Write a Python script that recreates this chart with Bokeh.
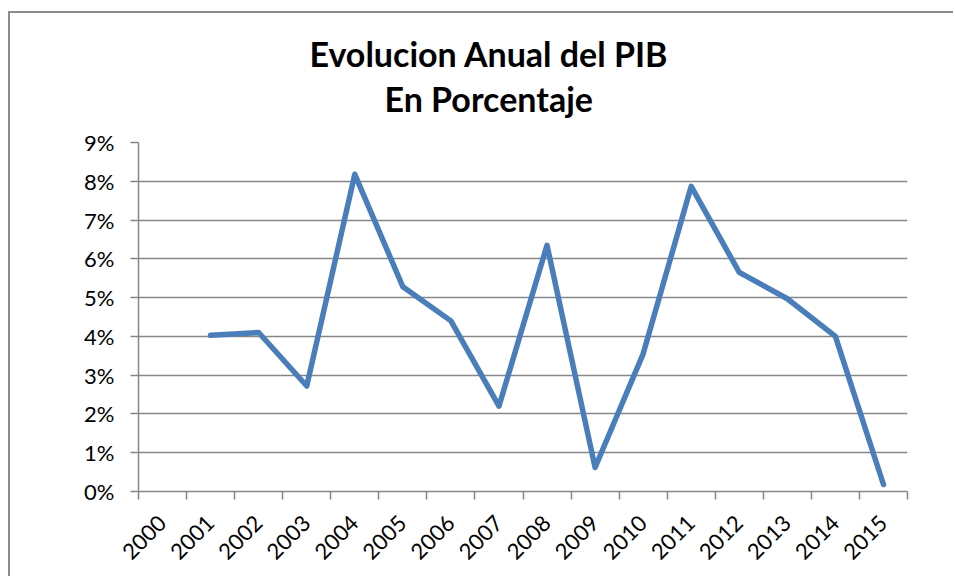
import math
from bokeh.plotting import figure
from bokeh.models import FixedTicker, Range1d, Title, PrintfTickFormatter, ColumnDataSource
from bokeh.embed import file_html
from bokeh.resources import INLINE

# ---- data ----
categories = [str(y) for y in range(2000, 2016)]
years = [2001, 2002, 2003, 2004, 2005, 2006, 2007, 2008, 2009, 2010, 2011, 2012, 2013, 2014, 2015]
pib = [4.03, 4.1, 2.72, 8.18, 5.28, 4.4, 2.2, 6.35, 0.62, 3.55, 7.87, 5.65, 4.97, 4.0, 0.18]
y_ticks = list(range(0, 10))
title_lines = ["Evolucion Anual del PIB", "En Porcentaje"]

FONT = "Lato"
GRID = "#868686"
LINE = "#4A7EBB"

n = len(categories)
first = int(categories[0])
xs = [y - first + 0.5 for y in years]

p = figure(width=945, height=565, output_backend="svg", toolbar_location=None,
           x_range=Range1d(0, n), y_range=Range1d(0, 9),
           min_border_left=128, min_border_right=48, min_border_top=129, min_border_bottom=87)
p.outline_line_color = None
p.background_fill_color = "white"
p.border_fill_color = "white"

src = ColumnDataSource(dict(x=xs, y=pib))
p.line("x", "y", source=src, line_color=LINE, line_width=5.5, line_join="round", line_cap="round")

# x axis: labels at category centres, ticks at boundaries
xa = p.xaxis[0]
xa.ticker = FixedTicker(ticks=[i + 0.5 for i in range(n)], minor_ticks=list(range(n + 1)))
xa.major_label_overrides = {i + 0.5: c for i, c in enumerate(categories)}
xa.major_tick_line_color = None
xa.minor_tick_line_color = GRID
xa.minor_tick_line_width = 1.5
xa.minor_tick_out = 8
xa.minor_tick_in = 0
xa.axis_line_color = GRID
xa.axis_line_width = 1.5
xa.major_label_orientation = math.pi / 4
xa.major_label_text_font = FONT
xa.major_label_text_font_size = "22px"
xa.major_label_text_color = "black"
xa.major_label_standoff = 20

ya = p.yaxis[0]
ya.ticker = FixedTicker(ticks=y_ticks)
ya.formatter = PrintfTickFormatter(format="%d%%")
ya.major_tick_line_color = GRID
ya.major_tick_line_width = 1.5
ya.major_tick_out = 8
ya.major_tick_in = 0
ya.minor_tick_line_color = None
ya.axis_line_color = GRID
ya.axis_line_width = 1.5
ya.major_label_text_font = FONT
ya.major_label_text_font_size = "22px"
ya.major_label_text_color = "black"
ya.major_label_standoff = 16

p.xgrid.grid_line_color = None
p.ygrid.ticker = FixedTicker(ticks=y_ticks)
p.ygrid.grid_line_color = GRID
p.ygrid.grid_line_width = 1.5

# titles: first added sits closest to the frame
for t, so, off in zip(reversed(title_lines), [48, -44], [246, 171]):
    p.add_layout(Title(text=t, align="left", offset=off, text_font=FONT, text_font_style="bold",
                       text_font_size="34px", text_color="black", standoff=so), "above")

p.styles = {"margin-left": "8px", "margin-top": "11px",
            "border-left": "2px solid #8c8c8c", "border-top": "2px solid #8c8c8c"}

open("out.html", "w").write(file_html(p, INLINE))
